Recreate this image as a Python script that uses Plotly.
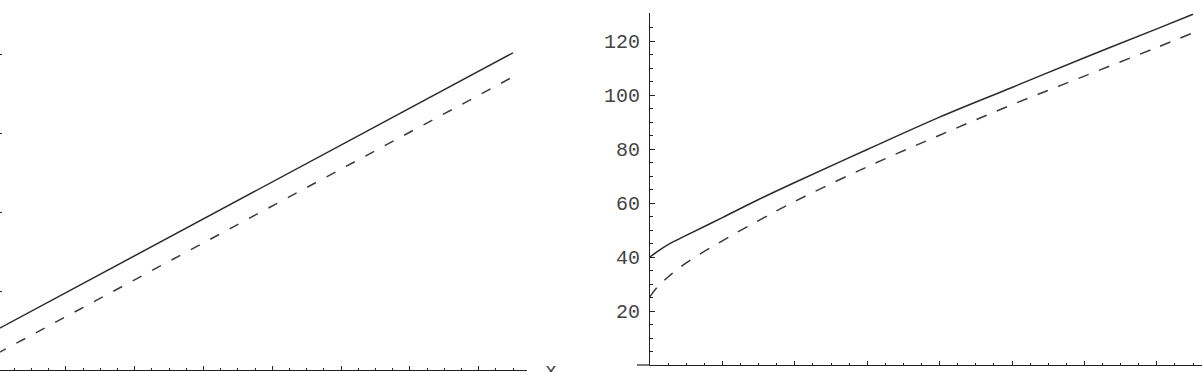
import plotly.graph_objects as go

# ---------------- data ----------------
left_x = [0.0, 1.5, 3.0, 4.5, 6.0, 7.5]
left_solid = [10.25, 24.3, 38.4, 52.4, 66.5, 80.5]
left_dashed = [4.16, 18.2, 32.3, 46.3, 60.4, 74.4]

right_x = [3.0, 3.1, 3.25, 3.5, 4.0, 4.5, 5.0, 6.0, 7.0, 8.0, 9.0, 10.0, 10.5]
right_solid = [40.0, 42.0, 44.6, 48.0, 54.6, 61.3, 67.6, 79.8, 91.8, 102.8, 113.8, 124.5, 129.9]
right_dashed = [25.3, 28.8, 32.6, 37.8, 46.0, 53.5, 60.6, 73.4, 85.1, 96.4, 107.0, 117.6, 123.0]

left_y_ticks = [20, 40, 60, 80]
left_x_ticks = [1, 2, 3, 4, 5, 6, 7]
right_y_ticks = [20, 40, 60, 80, 100, 120]
right_x_ticks = [4, 5, 6, 7, 8, 9, 10]
right_x_labels = ["", "5", "", "", "", "", "10"]

W, H = 1202, 372
FONT = "Liberation Mono, Courier New, monospace"
AX = "#222222"
LINE = "#2a2a2a"
TXT = "#444444"

def px(xp):
    return xp / W

def py(yp):
    return (H - yp) / H

fig = go.Figure()

fig.add_trace(go.Scatter(x=left_x, y=left_solid, mode="lines",
                         line=dict(color=LINE, width=1.5), xaxis="x", yaxis="y"))
fig.add_trace(go.Scatter(x=left_x, y=left_dashed, mode="lines",
                         line=dict(color="#3a3a3a", width=1.5, dash="10px,12px"),
                         xaxis="x", yaxis="y"))
fig.add_trace(go.Scatter(x=right_x, y=right_solid, mode="lines",
                         line=dict(color=LINE, width=1.5, shape="spline"),
                         xaxis="x2", yaxis="y2"))
fig.add_trace(go.Scatter(x=right_x, y=right_dashed, mode="lines",
                         line=dict(color="#3a3a3a", width=1.5, dash="11px,11px", shape="spline"),
                         xaxis="x2", yaxis="y2"))

# left panel: y axis origin sits 3 px left of the picture edge
lx_ppu = 68.8
ly_ppu = 3.94
fig.update_layout(
    xaxis=dict(domain=[0, px(527)], range=[3 / lx_ppu, 530 / lx_ppu],
               showgrid=False, zeroline=False, showline=True, linecolor=AX, linewidth=1.2,
               ticks="inside", ticklen=4, tickcolor=AX, tickwidth=1,
               tickvals=left_x_ticks, showticklabels=False,
               minor=dict(dtick=0.25, ticks="inside", ticklen=2, tickcolor=AX, tickwidth=1),
               anchor="y", fixedrange=True),
    yaxis=dict(domain=[py(370), py(13)], range=[0, 357 / ly_ppu],
               showgrid=False, zeroline=False, showline=False,
               ticks="inside", ticklen=2, tickcolor=AX, tickwidth=1,
               tickvals=left_y_ticks, showticklabels=False,
               anchor="x", fixedrange=True),
    xaxis2=dict(domain=[px(650), 1.0], range=[3, 3 + 552 / 72.4],
                showgrid=False, zeroline=False, showline=True, linecolor=AX, linewidth=1.2,
                ticks="inside", ticklen=4, tickcolor=AX, tickwidth=1,
                tickvals=right_x_ticks, ticktext=right_x_labels,
                minor=dict(dtick=0.25, ticks="inside", ticklen=2, tickcolor=AX, tickwidth=1),
                tickfont=dict(family=FONT, size=20, color=TXT),
                ticklabelstandoff=2,
                anchor="y2", fixedrange=True),
    yaxis2=dict(domain=[py(365), py(13)], range=[0, 352 / 2.7],
                showgrid=False, zeroline=False, showline=True, linecolor=AX, linewidth=1.2,
                ticks="inside", ticklen=5, tickcolor=AX, tickwidth=1,
                tickvals=right_y_ticks,
                minor=dict(dtick=5, ticks="inside", ticklen=3, tickcolor=AX, tickwidth=1),
                tickfont=dict(family=FONT, size=20, color=TXT),
                ticklabelstandoff=5,
                anchor="x2", fixedrange=True),
    width=W, height=H,
    margin=dict(l=0, r=0, t=0, b=0, pad=0, autoexpand=False),
    paper_bgcolor="white", plot_bgcolor="white",
    showlegend=False,
)

# small overhang of the right x axis to the left of its y axis
fig.add_shape(type="line", xref="paper", yref="paper",
              x0=px(637), x1=px(650), y0=py(365), y1=py(365),
              line=dict(color=AX, width=1.2))

# axis label "x" of the left panel, mostly below the picture
fig.add_annotation(text="x", xref="paper", yref="paper", x=px(551), y=py(358),
                   xanchor="center", yanchor="top", showarrow=False,
                   font=dict(family=FONT, size=20, color=TXT))

fig.write_html("out.html", config={"displayModeBar": False})
